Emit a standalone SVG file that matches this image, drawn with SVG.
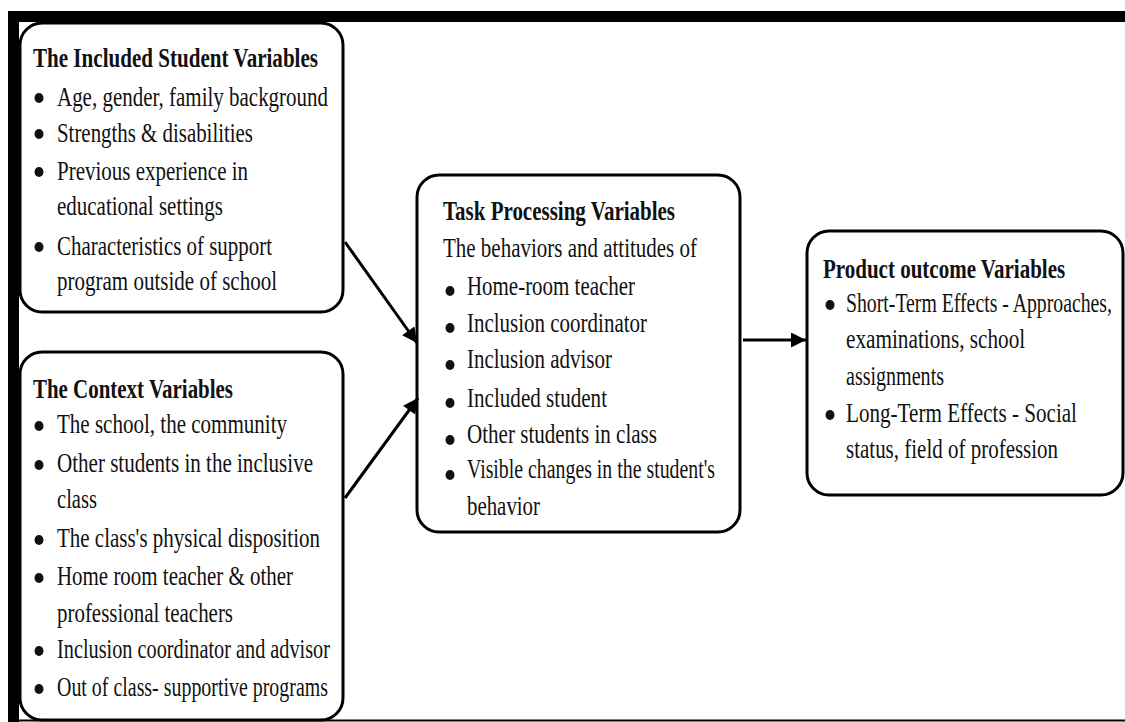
<svg xmlns="http://www.w3.org/2000/svg" width="1125" height="722" viewBox="0 0 1125 722">
<style>
.box{fill:#fff;stroke:#000;stroke-width:3}
.t{font-family:"Liberation Serif","Times New Roman",serif;font-size:28px;fill:#111}
.h{font-weight:bold}
.b{fill:#111}
.c{stroke:#000;stroke-width:3;fill:none}
</style>
<defs>
<marker id="ah" viewBox="0 0 10 10" refX="10" refY="5" markerWidth="5.5" markerHeight="5" markerUnits="strokeWidth" orient="auto">
<path d="M0,0 L10,5 L0,10 z" fill="#000"/>
</marker>
</defs>
<rect x="0" y="0" width="1125" height="722" fill="#fff"/>
<g id="frame">
<rect x="8" y="11" width="1117" height="11" fill="#000"/>
<rect x="8" y="11" width="11" height="711" fill="#000"/>
</g>
<g id="included">
<rect class="box" x="20" y="23" width="323" height="289" rx="22"/>
<text class="t h" x="33" y="67" textLength="285" lengthAdjust="spacingAndGlyphs">The Included Student Variables</text>
<ellipse class="b" cx="39" cy="98" rx="4.5" ry="5"/>
<text class="t" x="57" y="106" textLength="271" lengthAdjust="spacingAndGlyphs">Age, gender, family background</text>
<ellipse class="b" cx="39" cy="134" rx="4.5" ry="5"/>
<text class="t" x="57" y="142" textLength="196" lengthAdjust="spacingAndGlyphs">Strengths &amp; disabilities</text>
<ellipse class="b" cx="39" cy="172" rx="4.5" ry="5"/>
<text class="t" x="57" y="180" textLength="191" lengthAdjust="spacingAndGlyphs">Previous experience in</text>
<text class="t" x="57" y="215" textLength="166" lengthAdjust="spacingAndGlyphs">educational settings</text>
<ellipse class="b" cx="39" cy="247" rx="4.5" ry="5"/>
<text class="t" x="57" y="255" textLength="215" lengthAdjust="spacingAndGlyphs">Characteristics of support</text>
<text class="t" x="57" y="290" textLength="220" lengthAdjust="spacingAndGlyphs">program outside of school</text>
</g>
<g id="context">
<rect class="box" x="20" y="352" width="323" height="368" rx="22"/>
<text class="t h" x="33" y="398" textLength="200" lengthAdjust="spacingAndGlyphs">The Context Variables</text>
<ellipse class="b" cx="39" cy="426" rx="4.5" ry="5"/>
<text class="t" x="57" y="433" textLength="230" lengthAdjust="spacingAndGlyphs">The school, the community</text>
<ellipse class="b" cx="39" cy="465" rx="4.5" ry="5"/>
<text class="t" x="57" y="472" textLength="256" lengthAdjust="spacingAndGlyphs">Other students in the inclusive</text>
<text class="t" x="57" y="508" textLength="40" lengthAdjust="spacingAndGlyphs">class</text>
<ellipse class="b" cx="39" cy="540" rx="4.5" ry="5"/>
<text class="t" x="57" y="547" textLength="263" lengthAdjust="spacingAndGlyphs">The class's physical disposition</text>
<ellipse class="b" cx="39" cy="578" rx="4.5" ry="5"/>
<text class="t" x="57" y="585" textLength="236" lengthAdjust="spacingAndGlyphs">Home room teacher &amp; other</text>
<text class="t" x="57" y="622" textLength="176" lengthAdjust="spacingAndGlyphs">professional teachers</text>
<ellipse class="b" cx="39" cy="651" rx="4.5" ry="5"/>
<text class="t" x="57" y="658" textLength="273" lengthAdjust="spacingAndGlyphs">Inclusion coordinator and advisor</text>
<ellipse class="b" cx="39" cy="689" rx="4.5" ry="5"/>
<text class="t" x="57" y="696" textLength="271" lengthAdjust="spacingAndGlyphs">Out of class- supportive programs</text>
</g>
<g id="task">
<rect class="box" x="417" y="175" width="323" height="357" rx="22"/>
<text class="t h" x="443" y="220" textLength="232" lengthAdjust="spacingAndGlyphs">Task Processing Variables</text>
<text class="t" x="443" y="257" textLength="254" lengthAdjust="spacingAndGlyphs">The behaviors and attitudes of</text>
<ellipse class="b" cx="450" cy="291" rx="4.5" ry="5"/>
<text class="t" x="467" y="295" textLength="168" lengthAdjust="spacingAndGlyphs">Home-room teacher</text>
<ellipse class="b" cx="450" cy="328" rx="4.5" ry="5"/>
<text class="t" x="467" y="332" textLength="180" lengthAdjust="spacingAndGlyphs">Inclusion coordinator</text>
<ellipse class="b" cx="450" cy="365" rx="4.5" ry="5"/>
<text class="t" x="467" y="368" textLength="145" lengthAdjust="spacingAndGlyphs">Inclusion advisor</text>
<ellipse class="b" cx="450" cy="403" rx="4.5" ry="5"/>
<text class="t" x="467" y="407" textLength="140" lengthAdjust="spacingAndGlyphs">Included student</text>
<ellipse class="b" cx="450" cy="440" rx="4.5" ry="5"/>
<text class="t" x="467" y="443" textLength="190" lengthAdjust="spacingAndGlyphs">Other students in class</text>
<ellipse class="b" cx="450" cy="475" rx="4.5" ry="5"/>
<text class="t" x="467" y="478" textLength="248" lengthAdjust="spacingAndGlyphs">Visible changes in the student's</text>
<text class="t" x="467" y="515" textLength="73" lengthAdjust="spacingAndGlyphs">behavior</text>
</g>
<g id="product">
<rect class="box" x="807" y="231" width="316" height="264" rx="22"/>
<text class="t h" transform="translate(823,278) scale(0.7,1)" x="0" y="0" textLength="346" lengthAdjust="spacingAndGlyphs">Product outcome Variables</text>
<ellipse class="b" cx="830" cy="305" rx="4.5" ry="5"/>
<text class="t" transform="translate(846,312) scale(0.7,1)" x="0" y="0" textLength="380" lengthAdjust="spacingAndGlyphs">Short-Term Effects - Approaches,</text>
<text class="t" transform="translate(846,348) scale(0.7,1)" x="0" y="0" textLength="256" lengthAdjust="spacingAndGlyphs">examinations, school</text>
<text class="t" transform="translate(846,385) scale(0.7,1)" x="0" y="0" textLength="140" lengthAdjust="spacingAndGlyphs">assignments</text>
<ellipse class="b" cx="830" cy="415" rx="4.5" ry="5"/>
<text class="t" transform="translate(846,422) scale(0.7,1)" x="0" y="0" textLength="330" lengthAdjust="spacingAndGlyphs">Long-Term Effects - Social</text>
<text class="t" transform="translate(846,458) scale(0.7,1)" x="0" y="0" textLength="303" lengthAdjust="spacingAndGlyphs">status, field of profession</text>
</g>
<g id="connectors">
<line class="c" x1="345" y1="242" x2="417" y2="343" marker-end="url(#ah)"/>
<line class="c" x1="345" y1="498" x2="418" y2="398" marker-end="url(#ah)"/>
<line class="c" x1="743" y1="340" x2="806" y2="340" marker-end="url(#ah)"/>
</g>
<line x1="19" y1="720.5" x2="1125" y2="720.5" stroke="#000" stroke-width="2"/>
</svg>
